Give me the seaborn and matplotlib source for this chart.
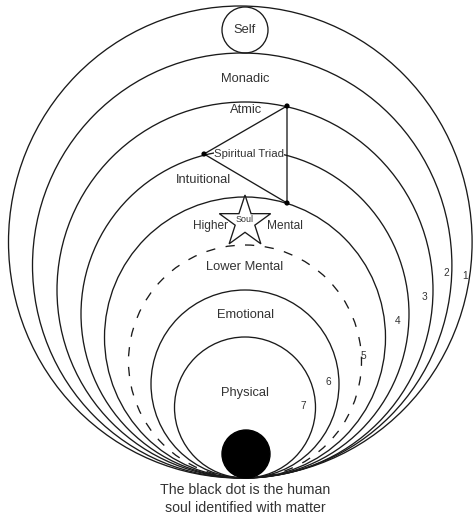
import numpy as np
import matplotlib
matplotlib.use("Agg")
import matplotlib.pyplot as plt
from matplotlib.patches import Ellipse, Circle, Polygon
import seaborn as sns
import pandas as pd

sns.set_theme(style="white")
plt.rcParams['font.family'] = ['Liberation Sans', 'DejaVu Sans']

# ---- data (pixel-space diagram values) ----
plane_tops = [6, 53, 102, 150, 197, 245, 290, 337]        # top of each nested circle
plane_dashed = [False, False, False, False, False, True, False, False]
plane_centers_x = [240.3, 242.2, 245, 245, 245, 245, 245, 245]
plane_half_widths = [231.8, 209.7, 188, 164, 140.5, 116.5, 94, 70.5]
tangent_y = 478

plane_labels = ["Monadic", "Atmic", "Intuitional", "Higher", "Mental",
                "Lower Mental", "Emotional", "Physical"]
plane_label_x = [245, 246, 203, 210, 285, 245, 245, 245]
plane_label_y = [79, 110, 180, 226, 226, 267, 315, 393]

number_labels = ["1", "2", "3", "4", "5", "6", "7"]
number_x = [465, 446, 424, 398, 363, 328, 303]
number_y = [276, 273, 297, 321, 356, 382, 406]

triad_x = [287, 204, 287]
triad_y = [106, 154, 203]

caption = ["The black dot is the human", "soul identified with matter"]

fig = plt.figure(figsize=(4.75, 5.17), dpi=100)
ax = fig.add_axes([0, 0, 1, 1])
ax.set_xlim(0, 475)
ax.set_ylim(517, 0)
ax.axis("off")

line_c = "#1a1a1a"
text_c = "#333333"

for top, cx, hw, dashed in zip(plane_tops, plane_centers_x, plane_half_widths, plane_dashed):
    h = tangent_y - top
    e = Ellipse((cx, top + h / 2), 2 * hw, h, fill=False, ec=line_c, lw=0.95,
                ls=(0, (7, 8)) if dashed else "-", zorder=2)
    ax.add_patch(e)

# Self circle
ax.add_patch(Circle((245, 30), 23, fill=False, ec=line_c, lw=0.95, zorder=3))
ax.text(245, 30, "Self", ha="center", va="center", fontsize=9.3, color=text_c)

# Spiritual triad
tri = pd.DataFrame({"x": triad_x + [triad_x[0]], "y": triad_y + [triad_y[0]]})
ax.plot(tri["x"], tri["y"], color=line_c, lw=0.95, zorder=3)
sns.scatterplot(data=tri.iloc[:3], x="x", y="y", ax=ax, color="black", s=14,
                edgecolor="none", zorder=4, legend=False)
ax.text(249, 154, "Spiritual Triad", ha="center", va="center", fontsize=8.2,
        color=text_c, zorder=5,
        bbox=dict(facecolor="white", edgecolor="none", pad=0.3))

# Soul star
cx, cy, R = 245, 222, 27
r_in = R * 0.382
pts = []
for i in range(10):
    ang = np.deg2rad(90 + i * 36)
    rr = R if i % 2 == 0 else r_in
    pts.append((cx + rr * np.cos(ang), cy - rr * np.sin(ang)))
ax.add_patch(Polygon(pts, closed=True, fc="white", ec=line_c, lw=0.95, zorder=4))
ax.text(245, 219, "Soul", ha="center", va="center", fontsize=6.4, color=text_c, zorder=5)

# Plane labels
for lab, x, y in zip(plane_labels, plane_label_x, plane_label_y):
    ax.text(x, y, lab, ha="center", va="center",
            fontsize=8.6 if lab in ("Higher", "Mental") else 9.3, color=text_c, zorder=5)

for lab, x, y in zip(number_labels, number_x, number_y):
    ax.text(x, y, lab, ha="center", va="center", fontsize=7.3, color=text_c, zorder=5)

# Black dot
ax.add_patch(Circle((246, 454), 24, fc="black", ec="black", zorder=6))

ax.text(245, 490, caption[0], ha="center", va="center", fontsize=10.2, color=text_c)
ax.text(245, 508, caption[1], ha="center", va="center", fontsize=10.2, color=text_c)

fig.savefig("out.png", dpi=100, facecolor="white")
